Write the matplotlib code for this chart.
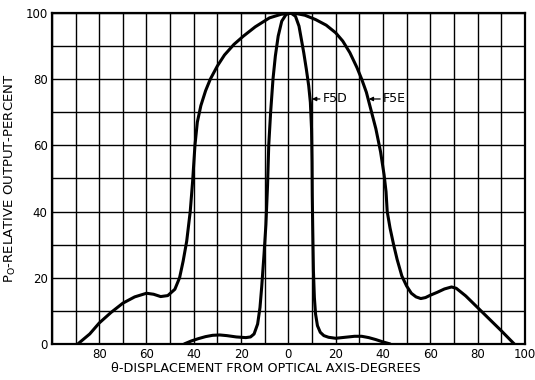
import matplotlib
matplotlib.use('Agg')
import matplotlib.pyplot as plt

# F5E - wide pattern (theta in degrees, relative output in percent)
f5e_theta = [-89, -84, -80, -75, -70, -65, -60, -57, -54, -51, -48, -46, -44.5, -43,
             -41.5, -40.5, -39.5, -38.5, -37, -35, -33, -30, -27, -23, -19, -14, -8,
             -3, 2, 7, 11.5, 16, 20, 23, 26, 29, 31, 33, 35, 37, 39, 40.5, 41.3, 41.8,
             43, 44.5, 46, 48, 50, 52, 54, 56, 58, 60, 63, 66, 69, 71, 75, 80, 85, 90, 95.5]
f5e_output = [0, 3, 6.3, 9.5, 12.3, 14.2, 15.3, 15, 14.3, 14.6, 16.5, 20, 25, 31,
              40, 49, 60, 67, 72, 76.5, 80, 84, 87.3, 90.5, 93, 95.8, 98.5,
              99.6, 100, 99.3, 98, 96.3, 94, 91.5, 88, 83.5, 80, 76, 70.5, 65, 58, 51, 46, 40,
              35, 30, 25.5, 20.5, 17.5, 15.3, 14.2, 13.7, 14, 14.7, 15.6, 16.6, 17.2, 16.8,
              14.5, 11, 7.5, 4, 0]

# F5D - narrow pattern
f5d_theta = [-44, -41, -38, -35, -32, -29, -26, -22, -18, -16, -14.5, -13, -12, -11.3,
             -10.3, -9.5, -8.8, -8.3, -7.5, -6.5, -5.5, -4.3, -2.8, -1, 1, 3, 4.5, 5.5,
             6.5, 7.6, 8.6, 9.3, 9.8, 10, 10.1, 10.3, 10.6, 11, 11.5, 12.3, 13.5, 15, 17,
             20, 24, 28, 31, 34, 37, 40, 43]
f5d_output = [0, 0.9, 1.6, 2.2, 2.6, 2.7, 2.5, 2.1, 1.9, 2.1, 3, 6, 11, 17,
              27, 36, 48, 60, 70, 80, 87, 93, 97.5, 99.5, 100, 99, 96, 92,
              88, 83, 78, 73, 65, 55, 45, 35, 22, 14, 9, 5.5, 3.5, 2.5, 2,
              1.7, 2, 2.3, 2.3, 1.9, 1.3, 0.6, 0]

x_ticks = [-80, -60, -40, -20, 0, 20, 40, 60, 80, 100]
x_tick_labels = ['80', '60', '40', '20', '0', '20', '40', '60', '80', '100']
y_ticks = [0, 20, 40, 60, 80, 100]

plt.rcParams['font.family'] = 'DejaVu Sans'

fig = plt.figure(figsize=(5.35, 3.8), dpi=100)
ax = fig.add_axes([0.097, 0.095, 0.884, 0.871])

ax.plot(f5e_theta, f5e_output, color='black', lw=2.2, solid_capstyle='round')
ax.plot(f5d_theta, f5d_output, color='black', lw=2.2, solid_capstyle='round')

ax.set_xlim(-100, 100)
ax.set_ylim(0, 100)

# 10-degree / 10-percent grid
ax.set_xticks(x_ticks)
ax.set_xticklabels(x_tick_labels)
ax.set_yticks(y_ticks)
ax.set_xticks(range(-100, 101, 10), minor=True)
ax.set_yticks(range(0, 101, 10), minor=True)
ax.grid(which='both', color='black', lw=1.0)
ax.tick_params(which='both', length=0, labelsize=8.5, pad=3)
for s in ax.spines.values():
    s.set_linewidth(1.6)

ax.annotate('F5D', xy=(10, 74), xytext=(14.5, 74), fontsize=9, va='center',
            arrowprops=dict(arrowstyle='-|>', color='black', lw=0.9,
                            shrinkA=0, shrinkB=0, mutation_scale=6))
ax.annotate('F5E', xy=(34, 74), xytext=(40, 74), fontsize=9, va='center',
            arrowprops=dict(arrowstyle='-|>', color='black', lw=0.9,
                            shrinkA=0, shrinkB=0, mutation_scale=6))

ax.set_xlabel('\u03b8-DISPLACEMENT FROM OPTICAL AXIS-DEGREES', fontsize=9.2)
ax.set_ylabel(r'P$_{\mathrm{O}}$-RELATIVE OUTPUT-PERCENT', fontsize=9.5)
ax.xaxis.set_label_coords(0.452, -0.055)
ax.yaxis.set_label_coords(-0.072, 0.5)

fig.savefig('out.png', dpi=100)
